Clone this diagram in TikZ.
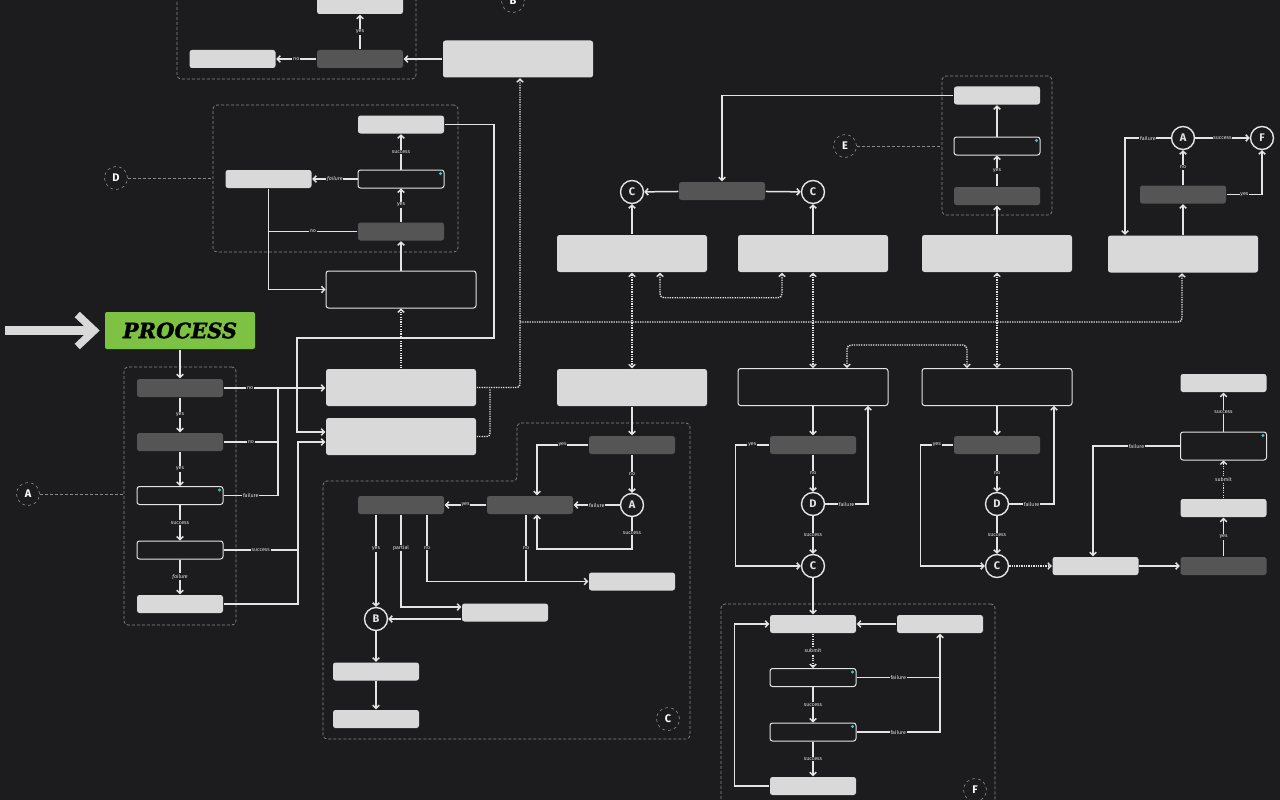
\documentclass[tikz,border=0pt]{standalone}
\usepackage{fontspec}
\setmainfont{Fira Sans}
\newfontfamily\procfont{DejaVu Serif}[BoldItalicFeatures={FakeBold=1.6}]
\usetikzlibrary{arrows.meta, calc}

\definecolor{bg}{HTML}{1C1C1E}
\definecolor{lite}{HTML}{D9D9D9}
\definecolor{drk}{HTML}{555555}
\definecolor{wire}{HTML}{E4E4E4}
\definecolor{grpc}{HTML}{8A8A8A}
\definecolor{ledc}{HTML}{2ED3C6}
\definecolor{procg}{HTML}{7DC242}

\begin{document}
\begin{tikzpicture}[x=1pt,y=-1pt,>={Straight Barb[length=3pt,width=6.5pt]},line width=1.5pt,color=wire,
  lbox/.style={rectangle, rounded corners=2.5pt, fill=lite, minimum width=86pt, minimum height=18pt, inner sep=0pt},
  dbox/.style={lbox, fill=drk},
  obox/.style={lbox, fill=bg, draw=wire, line width=1pt},
  wide/.style={minimum width=150pt, minimum height=37pt},
  circ/.style={circle, draw=wire, fill=bg, line width=1.4pt, minimum size=23pt, inner sep=0pt, font=\bfseries\fontsize{11}{11}\selectfont},
  tag/.style={circle, draw=grpc, dashed, fill=bg, line width=.6pt, minimum size=23pt, inner sep=0pt, text=white, font=\bfseries\fontsize{11}{11}\selectfont},
  grp/.style={draw=grpc, dash pattern=on 3pt off 2pt, rounded corners=4pt, line width=.7pt, inner sep=0pt},
  grpl/.style={draw=grpc, dash pattern=on 3pt off 2pt, line width=.7pt},
  lbl/.style={fill=bg, inner sep=.8pt, text=wire, font=\fontsize{5.3}{6}\selectfont},
  dots/.style={dash pattern=on 1.3pt off 1.1pt, line width=1.4pt},
  proc/.style={rectangle, rounded corners=2pt, fill=procg, minimum width=150pt, minimum height=37pt, text=black, font=\procfont\bfseries\itshape\fontsize{21}{21}\selectfont}]
  \useasboundingbox (0,0) rectangle (1280,800);
  \clip (0,0) rectangle (1280,800);
  \fill[bg] (0,0) rectangle (1280,800);

  % Groups
  \node[grp, minimum width=239pt, minimum height=99pt] (gTL) at (296.5,29.5) {};
  \node[grp, minimum width=245pt, minimum height=147pt] (gD) at (335.5,178.5) {};
  \node[grp, minimum width=112pt, minimum height=258pt] (gA) at (180,496) {};
  \node[grp, minimum width=110pt, minimum height=139pt] (gE) at (997,145.5) {};
  \node[grp, minimum width=274pt, minimum height=216pt] (gF) at (858,712) {};
  \draw[grp] (517,423) -- (690,423) -- (690,739) -- (323,739) -- (323,481) -- (517,481) -- cycle;

  % Top left group
  \node[lbox] (tlTop) at (360,5) {};
  \node[dbox] (tlDark) at (360,59) {};
  \node[lbox] (tlLeft) at (232.5,59) {};
  \node[lbox, wide] (topBig) at (518,59) {};
  \node[tag] (tagB) at (513,1) {B};

  % D group
  \node[lbox] (dTop) at (401,124.5) {};
  \node[obox] (dOut) at (401,179) {};
  \node[dbox] (dDark) at (401,231.5) {};
  \node[lbox] (dLeft) at (268.5,179) {};
  \node[obox, wide] (dWide) at (401,289.5) {};
  \node[tag] (tagD) at (116,178) {D};

  % A group
  \node[proc] (proc) at (180,330.5) {PROCESS};
  \node[dbox] (aD1) at (180,388) {};
  \node[dbox] (aD2) at (180,442) {};
  \node[obox] (aO1) at (180,495.5) {};
  \node[obox] (aO2) at (180,550) {};
  \node[lbox] (aL) at (180,604) {};
  \node[tag] (tagA) at (28,494) {A};

  \node[lbox, wide] (bx1) at (401,387.5) {};
  \node[lbox, wide] (bx2) at (401,436.5) {};

  % Top row
  \node[lbox, wide] (tA) at (632,253.5) {};
  \node[lbox, wide] (tB) at (813,253.5) {};
  \node[lbox, wide] (tC) at (997,253.5) {};
  \node[lbox, wide] (tD) at (1183,254) {};
  \node[circ] (cL) at (632,192) {C};
  \node[circ] (cR) at (813,192) {C};
  \node[dbox] (dkTop) at (722,191) {};

  % E group
  \node[lbox] (eTop) at (997,95.5) {};
  \node[obox] (eOut) at (997,146) {};
  \node[dbox] (eDark) at (997,196) {};
  \node[tag] (tagE) at (845,146) {E};

  \node[circ] (rA) at (1183,138) {A};
  \node[circ] (rF) at (1262,138) {F};
  \node[dbox] (rDark) at (1183,194.5) {};

  % Middle row
  \node[lbox, wide] (mA) at (632,387.5) {};
  \node[obox, wide] (mB) at (813,387) {};
  \node[obox, wide] (mC) at (997,387) {};

  % C group
  \node[dbox] (c1) at (632,445) {};
  \node[circ] (cA) at (632,505) {A};
  \node[dbox] (c2) at (530,505) {};
  \node[dbox] (c3) at (401,505) {};
  \node[lbox] (c4) at (632,581.5) {};
  \node[lbox] (c5) at (505,612.5) {};
  \node[circ] (cB) at (376,619) {B};
  \node[lbox] (c6) at (376,671.5) {};
  \node[lbox] (c7) at (376,719) {};
  \node[tag] (tagC) at (668,719) {C};

  \node[dbox] (dd1) at (813,445) {};
  \node[circ] (dD) at (813,504) {D};
  \node[circ] (dC) at (813,566) {C};
  \node[dbox] (dd2) at (997,445) {};
  \node[circ] (dD2) at (997,504) {D};
  \node[circ] (dC2) at (997,566) {C};

  \node[lbox] (r1) at (1095.5,566) {};
  \node[dbox] (r2) at (1223.5,566) {};
  \node[lbox] (r3) at (1223.5,508) {};
  \node[obox, minimum height=28pt] (r4) at (1223.5,446) {};
  \node[lbox] (r5) at (1223.5,383) {};

  % F group
  \node[lbox] (f1) at (813,624) {};
  \node[lbox] (f2) at (940,624) {};
  \node[obox] (f3) at (813,677.5) {};
  \node[obox] (f4) at (813,732) {};
  \node[lbox] (f5) at (813,786) {};
  \node[tag] (tagF) at (975,790) {F};

  \foreach \b in {aO1,dOut,eOut,r4,f3,f4}
    \fill[ledc] ([xshift=-4pt,yshift=-4pt]\b.north east) circle (1.6pt);

  % Bends
  \coordinate (jA) at (278,388);
  \coordinate (jB) at (298,442);
  \coordinate (jD) at (494,338);
  \coordinate (jE) at (297,432);
  \coordinate (jBx) at (490,389);
  \coordinate (bus) at (520,322);
  \coordinate (cS) at (537,549);
  \coordinate (inArr) at (5,330.5);

  % Entry arrow
  \draw[lite, line width=9pt] (inArr) -- ([xshift=-13pt]proc.west);
  \draw[lite, line width=7.5pt] ([xshift=-27pt,yshift=16pt]proc.west) -- ([xshift=-10pt]proc.west) -- ([xshift=-27pt,yshift=-16pt]proc.west);

  % Group tags
  \draw[grpl] (tagA.east) -- (tagA.east -| gA.west);
  \draw[grpl] (tagD.east) -- (tagD.east -| gD.west);
  \draw[grpl] (tagE.east) -- (tagE.east -| gE.west);

  % Top left
  \draw[->] (topBig.west) -- (tlDark.east);
  \draw[->] (tlDark.west) -- node[lbl]{no} (tlLeft.east);
  \draw[->] (tlDark) -- node[lbl]{yes} (tlTop);

  % D group
  \draw[->] (dWide) -- (dDark);
  \draw[->] (dDark) -- node[lbl]{yes} (dOut);
  \draw[->] (dOut) -- node[lbl]{success} (dTop);
  \draw[->] (dOut.west) -- node[lbl,font=\fontsize{5.3}{6}\selectfont\itshape]{failure} (dLeft.east);
  \draw[->] (dLeft.south) |- (dWide.west);
  \draw (dDark.west) -- node[lbl]{no} (dDark.west -| dLeft.south);
  \draw[->] (dTop.east) -| (jD) -| (jE) -- (jE -| bx2.west);

  % A group
  \draw[->] (proc) -- (aD1);
  \draw[->] (aD1) -- node[lbl]{yes} (aD2);
  \draw[->] (aD2) -- node[lbl]{yes} (aO1);
  \draw[->] (aO1) -- node[lbl]{success} (aO2);
  \draw[->] (aO2) -- node[lbl,font=\fontsize{5.3}{6}\selectfont\itshape]{failure} (aL);
  \draw[->] (aD1.east) -- node[lbl,pos=.26]{no} (aD1.east -| bx1.west);
  \draw (aD2.east) -- node[lbl]{no} (aD2.east -| jA);
  \draw (aO1.east) -- node[lbl]{failure} (aO1.east -| jA) -- (jA);
  \draw (aO2.east) -- node[lbl]{success} (aO2.east -| jB);
  \draw[->] (aL.east) -| (jB) -- (jB -| bx2.west);

  % Dotted links
  \draw[dots,->] (bx1) -- (dWide);
  \draw[dots,->,rounded corners=3pt] (bx1.east) -| ([xshift=2pt]topBig.south);
  \draw[dots,rounded corners=3pt] (bx2.east) -| (jBx);
  \draw[dots,->,rounded corners=4pt] (bus) -| ([xshift=-1pt]tD.south);
  \draw[dots,<->] (tA) -- (mA);
  \draw[dots,<->] (tB) -- (mB);
  \draw[dots,<->] (tC) -- (mC);
  \draw[dots,<->,rounded corners=4pt] ([xshift=28pt]tA.south) -- ++(0,25) -| ([xshift=-31pt]tB.south);
  \draw[dots,<->,rounded corners=4pt] ([xshift=34pt]mB.north) -- ++(0,-23) -| ([xshift=-30pt]mC.north);

  % Top row
  \draw[->] (tA) -- (cL);
  \draw[->] (tB) -- (cR);
  \draw[->] (dkTop) -- (cL);
  \draw[->] (dkTop) -- (cR);
  \draw[->] (eTop.west) -| (dkTop.north);
  \draw[->] (tC) -- (eDark);
  \draw[->] (eDark) -- node[lbl]{yes} (eOut);
  \draw[->] (eOut) -- (eTop);
  \draw[->] (tD) -- (rDark);
  \draw[->] (rDark) -- node[lbl]{no} (rA);
  \draw[->] (rA) -- node[lbl]{success} (rF);
  \draw[->] (rA.west) -| node[lbl,pos=.25]{failure} ([xshift=-58pt]tD.north);
  \draw[->] (rDark.east) -| node[lbl,pos=.25]{yes} (rF.south);

  % C group
  \draw[->] (mA) -- (c1);
  \draw[->] (c1) -- node[lbl]{no} (cA);
  \draw[->] (c1.west) -| node[lbl,pos=.25]{yes} ([xshift=7pt]c2.north);
  \draw[->] (cA) -- node[lbl]{failure} (c2);
  \draw[->] (cA.south) |- node[lbl,pos=.25]{success} (cS) -- (cS |- c2.south);
  \draw[->] (c2) -- node[lbl]{yes} (c3);
  \draw ([xshift=-4pt]c2.south) -- node[lbl]{no} ([xshift=-4pt]c2.south |- c4.west);
  \draw[->] ([xshift=26pt]c3.south) |- node[lbl,pos=.25]{no} (c4.west);
  \draw[->] (c3.south) |- node[lbl,pos=.18]{partial} ([yshift=5.5pt]c5.west);
  \draw[->] ([xshift=-25pt]c3.south) -- node[lbl,pos=.37]{yes} (cB.north);
  \draw[->] ([yshift=-6.5pt]c5.west) -- (cB.east);
  \draw[->] (cB) -- (c6);
  \draw[->] (c6) -- (c7);

  % Middle right
  \draw[->] (mB) -- (dd1);
  \draw[->] (dd1) -- node[lbl]{no} (dD);
  \draw[->] (dD) -- node[lbl]{success} (dC);
  \draw[->] (dD.east) -| node[lbl,pos=.25]{failure} ([xshift=55pt]mB.south);
  \draw[->] (dd1.west) -- node[lbl]{yes} ++(-34,0) |- (dC.west);
  \draw[->] (dC) -- (f1);
  \draw[->] (mC) -- (dd2);
  \draw[->] (dd2) -- node[lbl]{no} (dD2);
  \draw[->] (dD2) -- node[lbl]{success} (dC2);
  \draw[->] (dD2.east) -| node[lbl,pos=.25]{failure} ([xshift=57pt]mC.south);
  \draw[->] (dd2.west) -- node[lbl]{yes} ++(-33,0) |- (dC2.west);
  \draw[dots,->] (dC2) -- (r1);

  % Right bottom
  \draw[->] (r1) -- (r2);
  \draw[->] (r2) -- node[lbl]{yes} (r3);
  \draw[dots,->] (r3) -- node[lbl]{submit} (r4);
  \draw[->] (r4) -- node[lbl]{success} (r5);
  \draw[->] (r4.west) -| node[lbl,pos=.25]{failure} ([xshift=-2.5pt]r1.north);

  % F group
  \draw[->] (f2) -- (f1);
  \draw[dots,->] (f1) -- node[lbl]{submit} (f3);
  \draw[->] (f3) -- node[lbl]{success} (f4);
  \draw[->] (f4) -- node[lbl]{success} (f5);
  \draw (f3.east) -- node[lbl]{failure} (f3.east -| f2.south);
  \draw[->] (f4.east) -| node[lbl,pos=.25]{failure} (f2.south);
  \draw[->] (f5.west) -- ++(-35,0) |- (f1.west);
\end{tikzpicture}
\end{document}
